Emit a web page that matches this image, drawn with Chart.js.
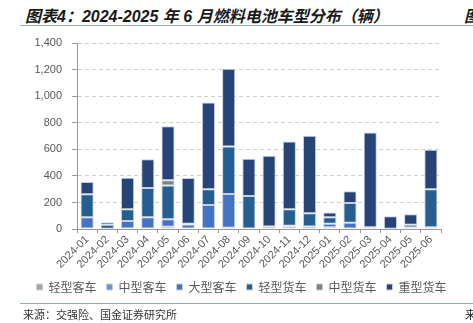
<!DOCTYPE html>
<html>
<head>
<meta charset="utf-8">
<script src="https://cdn.jsdelivr.net/npm/chart.js@4"></script>
<style>
  body { margin: 0; background: #fff; overflow: hidden; }
  #wrap { position: relative; width: 473px; height: 323px; overflow: hidden; }
  #c { position: absolute; left: 0; top: 0; }
  .title { position: absolute; left: 25px; top: 3px; font: italic bold 16px "Liberation Sans", "Noto Sans CJK SC", sans-serif; color: #1a1a1a; white-space: nowrap; }
  .edge { position: absolute; font: 16px "Noto Sans CJK SC", sans-serif; color: #1a1a1a; white-space: nowrap; }
  .rule { position: absolute; left: 20px; right: 0; height: 1px; background: #8eacc4; }
  .src { position: absolute; left: 23px; top: 306px; font: 11px "Noto Sans CJK SC", sans-serif; color: #333; white-space: nowrap; }
</style>
</head>
<body>
<div id="wrap">
  <div class="title">图表4：2024-2025 年 6 月燃料电池车型分布（辆）</div>
  <div class="edge" style="left:464px;top:3px;font-weight:bold;font-style:italic">图</div>
  <div class="rule" style="top:25px"></div>
  <canvas id="c" width="473" height="323"></canvas>
  <div class="rule" style="top:303px"></div>
  <div class="src">来源：交强险、国金证券研究所</div>
  <div class="edge" style="left:465px;top:306px;font-size:11px">来</div>
</div>
<script>
const months = ['2024-01','2024-02','2024-03','2024-04','2024-05','2024-06','2024-07','2024-08','2024-09',
  '2024-10','2024-11','2024-12','2025-01','2025-02','2025-03','2025-04','2025-05','2025-06']

const lightBus   = [0,0,0,0,0,0,0,0,0,0,0,0,0,0,0,0,0,0]
const mediumBus  = [0,0,0,0,18,0,0,10,0,0,20,5,15,0,0,0,0,0]
const largeBus   = [90,2,62,90,57,35,182,255,5,5,5,15,25,47,0,0,12,15]
const lightTruck = [172,30,88,220,253,5,118,357,245,15,125,100,50,150,15,2,20,285]
const mediumTruck= [0,0,0,0,40,0,0,0,0,0,0,0,0,0,0,0,0,0]
const heavyTruck = [93,20,237,215,405,345,652,585,280,532,510,582,35,88,712,95,80,297]

const yTicks = [0,200,400,600,800,1000,1200,1400]

const font = '"Liberation Sans", Arial, "Noto Sans CJK SC", sans-serif'

function ds(label, data, color){
  return {
    label: label,
    data: data,
    backgroundColor: color,
    borderColor: '#c9cfdb',
    borderWidth: 1,
    borderSkipped: false,
    barPercentage: 0.65,
    categoryPercentage: 1
  }
}

const ctx = document.getElementById('c').getContext('2d')
const myChart = new Chart(ctx, {
  type: 'bar',
  data: {
    labels: months,
    datasets: [
      ds('轻型客车', lightBus, '#a5a5a5'),
      ds('中型客车', mediumBus, '#5b9bd5'),
      ds('大型客车', largeBus, '#4472c4'),
      ds('轻型货车', lightTruck, '#255e91'),
      ds('中型货车', mediumTruck, '#7f7f7f'),
      ds('重型货车', heavyTruck, '#264478')
    ]
  },
  options: {
    responsive: false,
    animation: false,
    layout: { padding: { left: 10, right: 0, top: 43, bottom: 20 } },
    plugins: {
      legend: {
        position: 'bottom',
        labels: {
          boxWidth: 6,
          boxHeight: 6,
          padding: 10,
          color: '#595959',
          font: { family: '"Noto Sans CJK SC", sans-serif', size: 12 }
        }
      },
      tooltip: { enabled: false }
    },
    scales: {
      x: {
        stacked: true,
        grid: { drawOnChartArea: false, drawTicks: true, tickLength: 4, color: '#999' },
        border: { color: '#999' },
        ticks: { color: '#595959', font: { family: font, size: 11 }, minRotation: 45, maxRotation: 45, padding: 0, autoSkip: false }
      },
      y: {
        stacked: true,
        min: 0,
        max: 1400,
        afterBuildTicks: axis => { axis.ticks = yTicks.map(v => ({ value: v })) },
        afterFit: axis => { axis.width = 67 },
        grid: { color: '#d0d0d0', tickColor: '#999', tickLength: 5 },
        border: { color: '#999', dash: [4, 3] },
        ticks: {
          color: '#595959',
          padding: 10,
          font: { family: font, size: 11 },
          callback: v => v.toLocaleString('en-US')
        }
      },
      // empty axis on the right, only keeps room like the original plot
      r: {
        position: 'right',
        afterFit: axis => { axis.width = 32 },
        grid: { display: false },
        border: { display: false },
        ticks: { display: false }
      }
    }
  }
})
</script>
</body>
</html>
